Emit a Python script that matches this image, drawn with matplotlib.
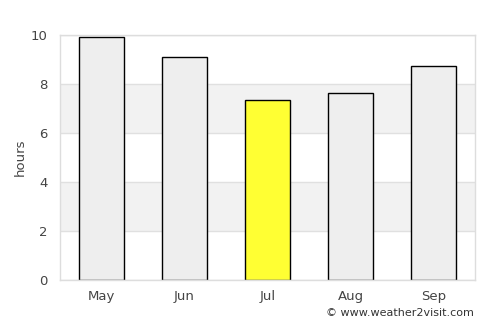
import matplotlib
matplotlib.use("Agg")
import matplotlib.pyplot as plt

months = ["May", "Jun", "Jul", "Aug", "Sep"]
hours = [9.9, 9.1, 7.35, 7.62, 8.72]
colors = ["#eeeeee", "#eeeeee", "#ffff33", "#eeeeee", "#eeeeee"]
yticks = [0, 2, 4, 6, 8, 10]

fig = plt.figure(figsize=(5, 3.25), dpi=100)
ax = fig.add_axes([60/500, 1-280/325, 415/500, 245/325])

for lo, hi in [(2, 4), (6, 8)]:
    ax.axhspan(lo, hi, color="#f2f2f2", zorder=0, lw=0)
for y in yticks:
    ax.axhline(y, color="#e0e0e0", lw=1, zorder=0.5)

x = range(len(months))
ax.bar(x, hours, width=0.54, color=colors, edgecolor="black", linewidth=1, zorder=2)

ax.set_xlim(-0.5, len(months) - 0.5)
ax.set_ylim(0, 10)
ax.set_yticks(yticks)
ax.set_xticks(list(x))
ax.set_xticklabels(months)
ax.tick_params(axis="both", length=0, labelsize=9.5, colors="#444444", pad=7)
ax.tick_params(axis="y", pad=9)
for s in ax.spines.values():
    s.set_color("#dddddd")
    s.set_linewidth(1)
ax.set_ylabel("hours", fontsize=9.5, color="#444444", va="center")
ax.yaxis.set_label_coords(-40/415, 0.5)

fig.text(474/500, 1-313/325, "© www.weather2visit.com", ha="right", va="center", fontsize=8, color="#333333")

fig.savefig("out.png", dpi=100)
